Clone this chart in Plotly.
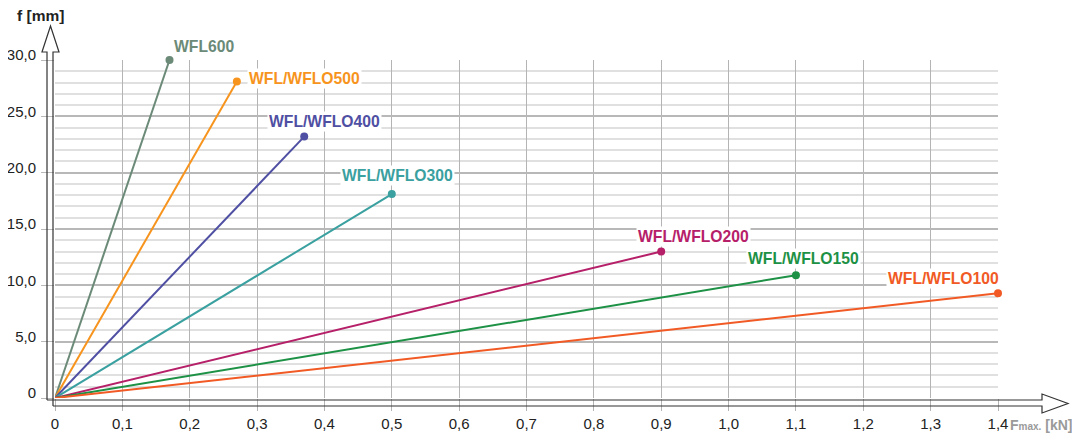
import plotly.graph_objects as go

# ---- data ----
series_names = ["WFL600", "WFL/WFLO500", "WFL/WFLO400", "WFL/WFLO300",
                "WFL/WFLO200", "WFL/WFLO150", "WFL/WFLO100"]
f_max_kn = [0.17, 0.27, 0.37, 0.50, 0.90, 1.10, 1.40]
deflection_mm = [30.0, 28.1, 23.2, 18.1, 13.0, 10.9, 9.3]
x_tick_vals = [0, 0.1, 0.2, 0.3, 0.4, 0.5, 0.6, 0.7, 0.8, 0.9, 1.0, 1.1, 1.2, 1.3, 1.4]
x_tick_text = ["0", "0,1", "0,2", "0,3", "0,4", "0,5", "0,6", "0,7", "0,8", "0,9",
               "1,0", "1,1", "1,2", "1,3", "1,4"]
y_tick_vals = [0, 5, 10, 15, 20, 25, 30]
y_tick_text = ["0", "5,0", "10,0", "15,0", "20,0", "25,0", "30,0"]

# ---- styles ----
colors = ["#6b8a78", "#f7941d", "#4f4fa3", "#3aa0a0", "#b62069", "#1d9145", "#f15a24"]
label_shift_x = [34, 68, 20, 6, 32, 8, -55]
label_shift_y = [14, 3, 15, 19, 15, 17, 15]

# page geometry (browser body has an 8px margin)
OFF = 8
W, H = 1080 - OFF, 437 - OFF
P_LEFT, P_RIGHT, P_TOP, P_BOTTOM = 55, 998, 60, 398   # plot area in page pixels
ML, MR, MT, MB = P_LEFT - OFF, 1080 - P_RIGHT, P_TOP - OFF, 437 - P_BOTTOM
PW, PH = P_RIGHT - P_LEFT, P_BOTTOM - P_TOP
FONT = "Liberation Sans, Arial, sans-serif"


def px(xp):
    return (xp - P_LEFT) / PW


def py(yp):
    return (P_BOTTOM - yp) / PH


fig = go.Figure()
for name, xv, yv, c in zip(series_names, f_max_kn, deflection_mm, colors):
    fig.add_trace(go.Scatter(
        x=[0, xv], y=[0, yv], mode="lines", line=dict(color=c, width=2),
        name=name, showlegend=False, hoverinfo="skip", cliponaxis=False))
    fig.add_trace(go.Scatter(
        x=[xv], y=[yv], mode="markers", marker=dict(color=c, size=8),
        name=name, showlegend=False, cliponaxis=False))

annotations = []
for name, xv, yv, c, sx, sy in zip(series_names, f_max_kn, deflection_mm, colors,
                                   label_shift_x, label_shift_y):
    annotations.append(dict(
        x=xv, y=yv, xref="x", yref="y", text="<b>%s</b>" % name, showarrow=False,
        xanchor="center", yanchor="middle", xshift=sx, yshift=sy,
        font=dict(family=FONT, size=15.7, color=c), bgcolor="white", borderpad=1))

annotations.append(dict(
    x=px(15), y=py(15), xref="paper", yref="paper", text="<b>f [mm]</b>",
    showarrow=False, xanchor="left", yanchor="middle",
    font=dict(family=FONT, size=15.5, color="#222222")))
annotations.append(dict(
    x=px(1009), y=py(425), xref="paper", yref="paper",
    text="<b>F<span style='font-size:10px'>max.</span> [kN]</b>",
    showarrow=False, xanchor="left", yanchor="middle", borderpad=0,
    font=dict(family=FONT, size=14, color="#9a9a9a")))

# hollow axis arrows (decoration), in page pixels
ax_col = "#333333"
y_arrow = [(47, 400), (47, 52), (42, 52), (50.5, 26), (59, 52), (53, 52), (53, 406)]
x_arrow = [(47, 400), (1042, 400), (1042, 394), (1068, 403.5), (1042, 413), (1042, 406), (53, 406)]


def path(pts):
    return "M " + " L ".join("%.5f,%.5f" % (px(a), py(b)) for a, b in pts)


shapes = [
    dict(type="path", xref="paper", yref="paper", path=path(y_arrow),
         line=dict(color=ax_col, width=1.2), layer="above"),
    dict(type="path", xref="paper", yref="paper", path=path(x_arrow),
         line=dict(color=ax_col, width=1.2), layer="above"),
]

fig.update_layout(
    width=W, height=H, margin=dict(l=ML, r=MR, t=MT, b=MB, autoexpand=False),
    paper_bgcolor="white", plot_bgcolor="white",
    font=dict(family=FONT, size=15, color="#222222"),
    annotations=annotations, shapes=shapes,
    xaxis=dict(range=[0, 1.4], tickvals=x_tick_vals, ticktext=x_tick_text,
               automargin=False,
               showgrid=True, gridcolor="#b4b4b4", gridwidth=1, zeroline=False,
               showline=False, ticks="outside", ticklen=12, tickcolor="#b4b4b4",
               ticklabelstandoff=0, tickfont=dict(size=15, color="#222222")),
    yaxis=dict(range=[0, 30], tickvals=y_tick_vals, ticktext=y_tick_text,
               automargin=False,
               showgrid=True, gridcolor="#b8b8b8", gridwidth=2, zeroline=False,
               showline=False, ticks="outside", ticklen=13, tickcolor="#b8b8b8",
               ticklabelstandoff=2, ticklabelshift=-5,
               tickfont=dict(size=15, color="#222222"),
               minor=dict(dtick=1, showgrid=True, gridcolor="#e0e0e0", gridwidth=1.5, ticks="")),
)

fig.write_html("out.html")
